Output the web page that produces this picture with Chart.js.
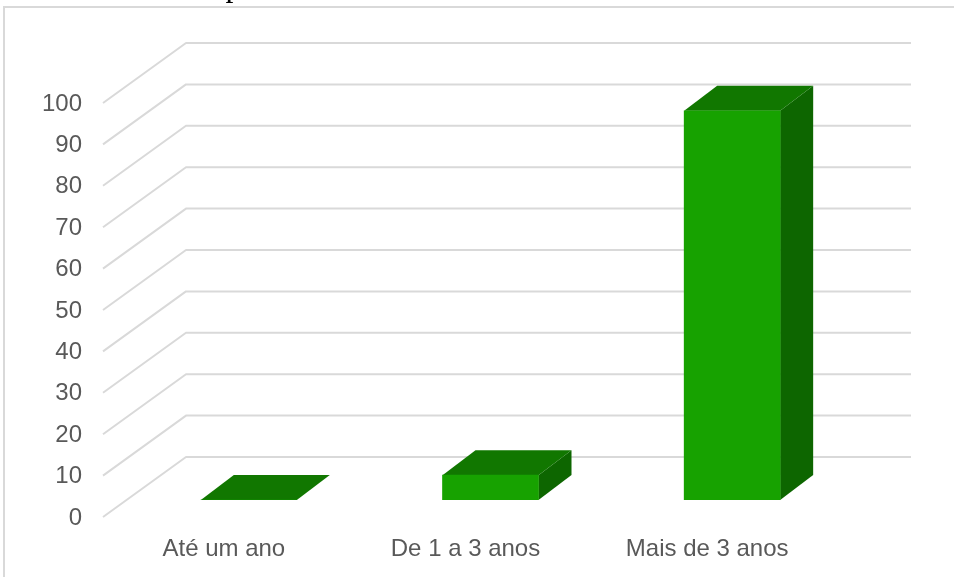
<!DOCTYPE html>
<html lang="pt">
<head>
<meta charset="utf-8">
<title>Tempo de atuação</title>
<script src="https://cdn.jsdelivr.net/npm/chart.js@4/dist/chart.umd.min.js"></script>
<style>
    html, body { margin: 0; padding: 0; background: #fff; overflow: hidden; }
    #wrap { position: relative; width: 954px; height: 577px; overflow: hidden; }
    #caption { position: absolute; left: 0; top: -33px; font: 32px "Liberation Serif", serif; color: #000; white-space: nowrap; transform: translateZ(0); }
    #frame { position: absolute; left: 3px; top: 6px; width: 951px; height: 571px; border-left: 2px solid #d9d9d9; border-top: 2px solid #d9d9d9; box-sizing: border-box; }
    #chart { position: absolute; left: 0; top: 0; }
</style>
</head>
<body>
<div id="wrap">
    <div id="caption">Gráfico 14 – Tempo de trabalho na área</div>
    <div id="frame"></div>
    <canvas id="chart" width="954" height="577"></canvas>
</div>
<script>
const categories = ['Até um ano', 'De 1 a 3 anos', 'Mais de 3 anos'];
const values = [0, 6, 94];
const yTicks = [0, 10, 20, 30, 40, 50, 60, 70, 80, 90, 100];

// profundidade do efeito 3D
const WALL_DX = 83, WALL_DY = -60;
const BAR_SHIFT_X = 25, BAR_SHIFT_Y = -17;
const BAR_DX = 33, BAR_DY = -25;

/*
 * 차트 뒤 3D 벽면 격자선
 */
const wallGrid = {
    id: 'wallGrid',
    beforeDatasetsDraw(chart) {
        const { ctx, scales: { x, y } } = chart;
        ctx.save();
        ctx.strokeStyle = '#d9d9d9';
        ctx.lineWidth = 2;
        ctx.lineJoin = 'round';
        yTicks.forEach(t => {
            const py = y.getPixelForValue(t);
            ctx.beginPath();
            ctx.moveTo(x.left, py);
            ctx.lineTo(x.left + WALL_DX, py + WALL_DY);
            ctx.lineTo(x.right + WALL_DX, py + WALL_DY);
            ctx.stroke();
        });
        ctx.restore();
    }
};

/*
 * 막대 윗면, 옆면 + 앞면 위치 이동
 */
const bar3d = {
    id: 'bar3d',
    beforeDatasetDraw(chart) {
        const ctx = chart.ctx;
        const bars = chart.getDatasetMeta(0).data;
        ctx.save();
        ctx.translate(BAR_SHIFT_X, BAR_SHIFT_Y);
        bars.forEach(bar => {
            const l = bar.x - bar.width / 2, r = bar.x + bar.width / 2;
            // 옆면
            ctx.fillStyle = '#0d6600';
            ctx.beginPath();
            ctx.moveTo(r, bar.base);
            ctx.lineTo(r + BAR_DX, bar.base + BAR_DY);
            ctx.lineTo(r + BAR_DX, bar.y + BAR_DY);
            ctx.lineTo(r, bar.y);
            ctx.closePath();
            ctx.fill();
            // 윗면
            ctx.fillStyle = '#117700';
            ctx.beginPath();
            ctx.moveTo(l, bar.y);
            ctx.lineTo(l + BAR_DX, bar.y + BAR_DY);
            ctx.lineTo(r + BAR_DX, bar.y + BAR_DY);
            ctx.lineTo(r, bar.y);
            ctx.closePath();
            ctx.fill();
        });
    },
    afterDatasetDraw(chart) {
        chart.ctx.restore();
    }
};

new Chart(document.getElementById('chart').getContext('2d'), {
    type: 'bar',
    data: {
        labels: categories,
        datasets: [{
            data: values,
            backgroundColor: '#17a200',
            borderWidth: 0,
            barThickness: 96
        }]
    },
    options: {
        responsive: false,
        animation: false,
        events: [],
        layout: { padding: { top: 103, right: 126, bottom: 0, left: 0 } },
        plugins: {
            legend: { display: false },
            title: { display: false },
            tooltip: { enabled: false }
        },
        scales: {
            x: {
                grid: { display: false, drawTicks: false },
                border: { display: false },
                afterFit: s => { s.height = 60; },
                ticks: {
                    color: '#595959',
                    padding: 18,
                    maxRotation: 0,
                    font: { family: '"Liberation Sans", Arial, sans-serif', size: 24 }
                }
            },
            y: {
                min: 0,
                max: 100,
                afterFit: s => { s.width = 103; },
                afterBuildTicks: s => { s.ticks = yTicks.map(v => ({ value: v })); },
                grid: { display: false, drawTicks: false },
                border: { display: false },
                ticks: {
                    color: '#595959',
                    padding: 21,
                    labelOffset: 1,
                    font: { family: '"Liberation Sans", Arial, sans-serif', size: 24 }
                }
            }
        }
    },
    plugins: [wallGrid, bar3d]
});
</script>
</body>
</html>
